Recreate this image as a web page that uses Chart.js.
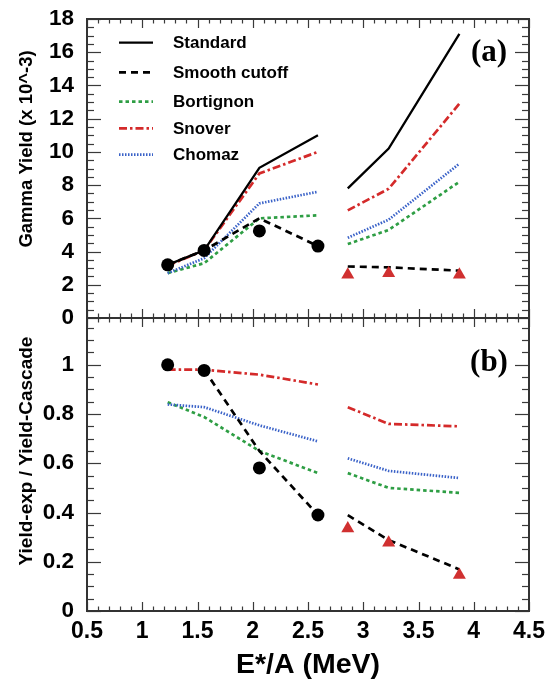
<!DOCTYPE html>
<html>
<head>
<meta charset="utf-8">
<script src="https://cdn.jsdelivr.net/npm/chart.js@4"></script>
<style>
  html, body { margin: 0; padding: 0; background: #fff; }
  #wrap { position: relative; width: 545px; height: 685px; }
  canvas { position: absolute; left: 0; }
</style>
</head>
<body>
<div id="wrap">
  <canvas id="chartA" width="545" height="330" style="top:0px"></canvas>
  <canvas id="chartB" width="545" height="385" style="top:300px"></canvas>
</div>
<script>
// ---------------- DATA ----------------
const xLow = [1.23, 1.56, 2.06, 2.59];
const xHigh = [2.86, 3.23, 3.87];
const seriesNames = ['Standard', 'Smooth cutoff', 'Bortignon', 'Snover', 'Chomaz'];
const xTicksMajor = [0.5, 1, 1.5, 2, 2.5, 3, 3.5, 4, 4.5];

// Panel (a): Gamma yield (x 10^-3)
const aStandardLow  = [3.2, 4.07, 9.04, 11.0];
const aStandardHigh = [7.8, 10.2, 17.1];
const aSmoothLow    = [3.2, 4.07, 6.0, 4.33];
const aSmoothHigh   = [3.1, 3.05, 2.85];
const aBortignonLow = [2.7, 3.3, 6.0, 6.18];
const aBortignonHigh= [4.45, 5.3, 8.2];
const aSnoverLow    = [3.15, 4.07, 8.7, 10.0];
const aSnoverHigh   = [6.48, 7.78, 12.9];
const aChomazLow    = [2.7, 3.6, 6.9, 7.6];
const aChomazHigh   = [4.83, 5.92, 9.29];
const aExpCircles   = [3.2, 4.07, 5.24, 4.33];
const aExpTriangles = [2.6, 2.7, 2.6];

// Panel (b): Yield-exp / Yield-Cascade
const bSmoothLow    = [null, 0.98, 0.65, 0.39];
const bSmoothHigh   = [0.389, 0.288, 0.169];
const bBortignonLow = [0.848, 0.788, 0.65, 0.56];
const bBortignonHigh= [0.56, 0.5, 0.48];
const bSnoverLow    = [0.98, 0.98, 0.96, 0.92];
const bSnoverHigh   = [0.828, 0.76, 0.75];
const bChomazLow    = [0.839, 0.828, 0.754, 0.689];
const bChomazHigh   = [0.62, 0.569, 0.54];
const bExpCircles   = [1.0, 0.977, 0.581, 0.39];
const bExpTriangles = [0.335, 0.277, 0.146];

// ---------------- STYLES ----------------
const styles = {
  'Standard':      { color: '#000000', dash: [],           width: 2.3 },
  'Smooth cutoff': { color: '#000000', dash: [7, 5],       width: 2.7 },
  'Bortignon':     { color: '#2e9e44', dash: [3.5, 3],     width: 2.7 },
  'Snover':        { color: '#d42a2a', dash: [8, 3, 2.5, 3], width: 2.7 },
  'Chomaz':        { color: '#3a62c8', dash: [1.5, 1.5],   width: 2.7 }
};
const BOLD_SANS = 'Liberation Sans';

function pts(xs, ys) { return xs.map((x, i) => ({ x: x, y: ys[i] })); }
function lineDs(name, xs, ys, order) {
  const s = styles[name];
  return {
    label: name, type: 'line', data: pts(xs, ys),
    borderColor: s.color, backgroundColor: s.color, borderWidth: s.width,
    borderDash: s.dash, pointRadius: 0, fill: false, tension: 0,
    spanGaps: false, order: order
  };
}
function markerDs(label, xs, ys, style, color, r) {
  return {
    label: label, type: 'scatter', data: pts(xs, ys), showLine: false,
    pointStyle: style, pointRadius: r, pointHoverRadius: r,
    backgroundColor: color, borderColor: color, borderWidth: 0, order: 0
  };
}

// ---------------- PLUGINS ----------------
function drawLine(ctx, x1, y1, x2, y2) { ctx.beginPath(); ctx.moveTo(x1, y1); ctx.lineTo(x2, y2); ctx.stroke(); }

const frameTicks = {
  id: 'frameTicks',
  afterDatasetsDraw(chart, args, o) {
    const { ctx, chartArea: a } = chart;
    const xs = chart.scales.x, ys = chart.scales.y;
    ctx.save();
    ctx.strokeStyle = '#3a3a3a';
    ctx.lineWidth = 1.2;
    ctx.setLineDash([]);
    const nx = Math.round((xs.max - xs.min) / o.xMinor);
    for (let i = 0; i <= nx; i++) {
      const v = xs.min + i * o.xMinor;
      const r = v / o.xMajor;
      const major = Math.abs(r - Math.round(r)) < 1e-6;
      const L = major ? o.xMajorLen : o.xMinorLen;
      const px = Math.round(xs.getPixelForValue(v)) + 0.5;
      drawLine(ctx, px, a.bottom, px, a.bottom - L);
      drawLine(ctx, px, a.top, px, a.top + L);
    }
    const ny = Math.floor((ys.max - ys.min) / o.yMinor + 1e-6);
    for (let i = 0; i <= ny; i++) {
      const v = ys.min + i * o.yMinor;
      const r = v / o.yMajor;
      const major = Math.abs(r - Math.round(r)) < 1e-6;
      const L = major ? o.yMajorLen : o.yMinorLen;
      const py = Math.round(ys.getPixelForValue(v)) + 0.5;
      drawLine(ctx, a.left, py, a.left + L, py);
      drawLine(ctx, a.right, py, a.right - L, py);
    }
    ctx.lineWidth = 2;
    ctx.strokeStyle = '#333';
    ctx.strokeRect(a.left, a.top, a.right - a.left, a.bottom - a.top);
    ctx.restore();
  }
};

const annotations = {
  id: 'annotations',
  afterDraw(chart, args, o) {
    const ctx = chart.ctx;
    ctx.save();
    if (o.yTitle) {
      ctx.translate(o.yTitle.x, o.yTitle.y);
      ctx.rotate(-Math.PI / 2);
      ctx.font = 'bold ' + o.yTitle.size + 'px "' + BOLD_SANS + '"';
      ctx.fillStyle = '#000';
      ctx.textAlign = 'center';
      ctx.textBaseline = 'middle';
      ctx.fillText(o.yTitle.text, 0, 0);
      ctx.setTransform(1, 0, 0, 1, 0, 0);
    }
    if (o.tag) {
      ctx.font = 'bold ' + o.tag.size + 'px "Liberation Serif"';
      ctx.fillStyle = '#000';
      ctx.textAlign = 'center';
      ctx.textBaseline = 'middle';
      ctx.fillText(o.tag.text, o.tag.x, o.tag.y);
    }
    if (o.legend) {
      const L = o.legend;
      L.rows.forEach((yy, i) => {
        const name = seriesNames[i];
        const s = styles[name];
        ctx.strokeStyle = s.color;
        ctx.lineWidth = s.width;
        ctx.setLineDash(s.dash);
        drawLine(ctx, L.x1, yy, L.x2, yy);
        ctx.setLineDash([]);
        ctx.font = 'bold ' + L.size + 'px "' + BOLD_SANS + '"';
        ctx.fillStyle = '#000';
        ctx.textAlign = 'left';
        ctx.textBaseline = 'middle';
        ctx.fillText(name, L.tx, yy + 1);
      });
    }
    ctx.restore();
  }
};

const tickFont = { family: BOLD_SANS, weight: 'bold', size: 22.5 };
const fmt = v => String(Math.round(v * 10) / 10);
const fixY = s => { s.width = 87; s.paddingTop = 0; s.paddingBottom = 0; };
const fixXb = s => { s.height = 74; s.paddingLeft = 0; s.paddingRight = 0; };

// ---------------- CHART (a) ----------------
new Chart(document.getElementById('chartA'), {
  type: 'line',
  data: {
    datasets: [
      markerDs('Data (circles)', xLow, aExpCircles, 'circle', '#000', 6.5),
      markerDs('Data (triangles)', xHigh, aExpTriangles, 'triangle', '#d03030', 7.5),
      lineDs('Standard', xLow, aStandardLow, 1), lineDs('Standard', xHigh, aStandardHigh, 1),
      lineDs('Smooth cutoff', xLow, aSmoothLow, 2), lineDs('Smooth cutoff', xHigh, aSmoothHigh, 2),
      lineDs('Bortignon', xLow, aBortignonLow, 5), lineDs('Bortignon', xHigh, aBortignonHigh, 5),
      lineDs('Snover', xLow, aSnoverLow, 3), lineDs('Snover', xHigh, aSnoverHigh, 3),
      lineDs('Chomaz', xLow, aChomazLow, 4), lineDs('Chomaz', xHigh, aChomazHigh, 4)
    ]
  },
  options: {
    responsive: false, animation: false, events: [],
    layout: { padding: { left: 0, right: 16, top: 19, bottom: 12 }, autoPadding: false },
    plugins: {
      legend: { display: false }, tooltip: { enabled: false },
      frameTicks: { xMinor: 0.1, xMajor: 0.5, xMajorLen: 9, xMinorLen: 4.5, yMinor: 0.5, yMajor: 2, yMajorLen: 14, yMinorLen: 7 },
      annotations: {
        yTitle: { text: 'Gamma Yield (x 10^-3)', x: 27, y: 149, size: 18.5 },
        tag: { text: '(a)', x: 489, y: 53, size: 31 },
        legend: { rows: [42.7, 72.3, 101.7, 128.3, 154.7], x1: 119, x2: 153, tx: 173, size: 17 }
      }
    },
    scales: {
      x: { type: 'linear', min: 0.5, max: 4.5, display: false },
      y: {
        type: 'linear', min: 0, max: 18,
        ticks: { stepSize: 2, color: '#000', font: tickFont, padding: 13, callback: fmt },
        grid: { display: false, drawTicks: false }, border: { display: false },
        afterFit: fixY
      }
    }
  },
  plugins: [frameTicks, annotations]
});

// ---------------- CHART (b) ----------------
new Chart(document.getElementById('chartB'), {
  type: 'line',
  data: {
    datasets: [
      markerDs('Data (circles)', xLow, bExpCircles, 'circle', '#000', 6.5),
      markerDs('Data (triangles)', xHigh, bExpTriangles, 'triangle', '#d03030', 7.5),
      lineDs('Smooth cutoff', xLow, bSmoothLow, 2), lineDs('Smooth cutoff', xHigh, bSmoothHigh, 2),
      lineDs('Bortignon', xLow, bBortignonLow, 5), lineDs('Bortignon', xHigh, bBortignonHigh, 5),
      lineDs('Snover', xLow, bSnoverLow, 3), lineDs('Snover', xHigh, bSnoverHigh, 3),
      lineDs('Chomaz', xLow, bChomazLow, 4), lineDs('Chomaz', xHigh, bChomazHigh, 4)
    ]
  },
  options: {
    responsive: false, animation: false, events: [],
    layout: { padding: { left: 0, right: 16, top: 18, bottom: 0 }, autoPadding: false },
    plugins: {
      legend: { display: false }, tooltip: { enabled: false },
      frameTicks: { xMinor: 0.1, xMajor: 0.5, xMajorLen: 9, xMinorLen: 4.5, yMinor: 0.05, yMajor: 0.2, yMajorLen: 14, yMinorLen: 7 },
      annotations: {
        yTitle: { text: 'Yield-exp / Yield-Cascade', x: 27, y: 151, size: 19 },
        tag: { text: '(b)', x: 489, y: 63, size: 31 }
      }
    },
    scales: {
      x: {
        type: 'linear', min: 0.5, max: 4.5,
        afterBuildTicks: s => { s.ticks = xTicksMajor.map(v => ({ value: v })); },
        ticks: { color: '#000', font: { family: BOLD_SANS, weight: 'bold', size: 23 }, padding: 7, maxRotation: 0, autoSkip: false, callback: fmt },
        grid: { display: false, drawTicks: false }, border: { display: false },
        title: { display: true, text: 'E*/A (MeV)', color: '#000', font: { family: BOLD_SANS, weight: 'bold', size: 28.5 }, padding: { top: 0, bottom: 3 } },
        afterFit: fixXb
      },
      y: {
        type: 'linear', min: 0, max: 1.19,
        ticks: { stepSize: 0.2, includeBounds: false, color: '#000', font: tickFont, padding: 13, callback: fmt },
        grid: { display: false, drawTicks: false }, border: { display: false },
        afterFit: fixY
      }
    }
  },
  plugins: [frameTicks, annotations]
});
</script>
</body>
</html>
